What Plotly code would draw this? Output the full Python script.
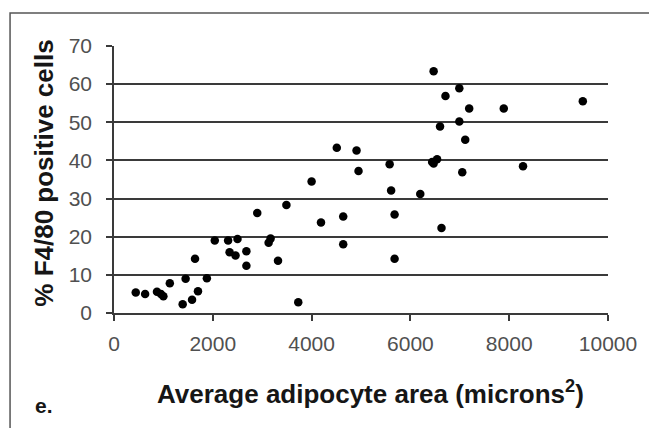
import plotly.graph_objects as go

# Average adipocyte area (microns^2)
area = [440, 630, 870, 950, 1000, 1130, 1390, 1450, 1580, 1640, 1700, 1880,
        2040, 2310, 2500, 2340, 2460, 2680, 2680, 2900, 3130, 3170, 3320,
        3490, 3730, 4000, 4190, 4510, 4640, 4640, 4910, 4950,
        5580, 5610, 5680, 5680, 6200, 6470, 6440, 6540, 6470, 6600, 6630,
        6710, 6990, 6990, 7050, 7110, 7190, 7890, 8280, 9490]
# % F4/80 positive cells
pct = [5.4, 5.0, 5.6, 5.0, 4.4, 7.8, 2.3, 9.0, 3.5, 14.2, 5.7, 9.1,
       19.0, 19.0, 19.4, 15.9, 15.1, 16.2, 12.4, 26.2, 18.4, 19.5, 13.7,
       28.3, 2.8, 34.5, 23.7, 43.3, 25.3, 18.0, 42.6, 37.2,
       39.0, 32.1, 25.8, 14.2, 31.2, 63.4, 39.6, 40.3, 39.2, 48.9, 22.3,
       56.9, 58.9, 50.2, 36.9, 45.4, 53.6, 53.6, 38.5, 55.5]

x_ticks = [0, 2000, 4000, 6000, 8000, 10000]
y_ticks = [0, 10, 20, 30, 40, 50, 60, 70]

FONT = "Liberation Sans, Arial, sans-serif"

fig = go.Figure()
fig.add_trace(go.Scatter(
    x=area, y=pct, mode="markers",
    marker=dict(color="black", size=8.5, line=dict(width=0)),
    showlegend=False,
))

axis_col = "#3a3a3a"
tick_font = dict(family=FONT, size=21, color="#505050")

fig.update_xaxes(
    range=[0, 10000], tickvals=x_ticks, ticktext=[str(v) for v in x_ticks],
    showline=True, linecolor=axis_col, linewidth=1.5,
    ticks="outside", ticklen=6, tickwidth=1.5, tickcolor=axis_col,
    showgrid=False, zeroline=False, tickfont=tick_font,
    ticklabelstandoff=5,
)
fig.update_yaxes(
    range=[0, 70], tickvals=y_ticks, ticktext=[str(v) for v in y_ticks],
    showline=True, linecolor=axis_col, linewidth=1.5,
    ticks="outside", ticklen=6, tickwidth=1.5, tickcolor=axis_col,
    showgrid=True, gridcolor="#3a3a3a", gridwidth=1.5, zeroline=False,
    tickfont=tick_font, ticklabelstandoff=10,
)

W, H = 499.0, 267.0  # plot area size in px
def px(xp):
    return (xp - 114) / W
def py(yp):
    return (313 - yp) / H

# axis titles
fig.add_annotation(text="<b>Average adipocyte area (microns<sup>2</sup>)</b>",
                   xref="paper", yref="paper", x=px(373), y=py(392),
                   showarrow=False, xanchor="center", yanchor="middle",
                   font=dict(family=FONT, size=26, color="#161616"))
fig.add_annotation(text="<b>% F4/80 positive cells</b>",
                   xref="paper", yref="paper", x=px(43), y=py(173),
                   showarrow=False, xanchor="center", yanchor="middle", textangle=-90,
                   font=dict(family=FONT, size=26, color="#161616"))

# outer frame of the panel (top and left edges visible)
fig.add_shape(type="rect", xref="paper", yref="paper",
              x0=px(9), x1=px(700), y0=py(500), y1=py(13),
              line=dict(color="#555", width=1.5), fillcolor="rgba(0,0,0,0)", layer="below")

fig.add_annotation(text="<b>e.</b>", xref="paper", yref="paper",
                   x=px(43), y=py(405),
                   showarrow=False, xanchor="center", yanchor="middle",
                   font=dict(family=FONT, size=21, color="#161616"))

fig.update_layout(
    width=649, height=428,
    margin=dict(l=114, r=36, t=46, b=115),
    paper_bgcolor="white", plot_bgcolor="white",
)

fig.write_html("out.html")
